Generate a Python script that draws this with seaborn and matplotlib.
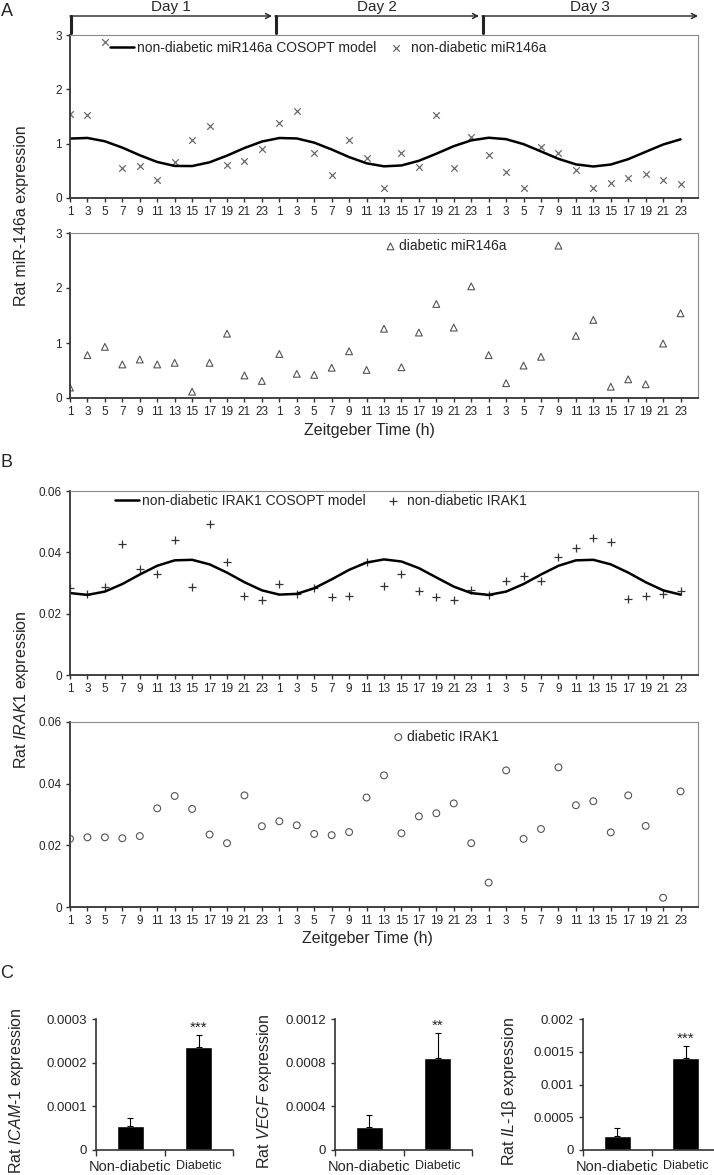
import numpy as np
import pandas as pd
import matplotlib
matplotlib.use("Agg")
import matplotlib.pyplot as plt
import seaborn as sns
from matplotlib.patches import FancyArrowPatch
from matplotlib.lines import Line2D
from matplotlib.ticker import FuncFormatter

# ---- data ----
zt_hours = [1, 3, 5, 7, 9, 11, 13, 15, 17, 19, 21, 23]
zt_labels = zt_hours * 3
day_names = ["Day 1", "Day 2", "Day 3"]

mir_nd = [1.54, 1.52, 2.88, 0.55, 0.59, 0.33, 0.66, 1.07, 1.32, 0.61, 0.68, 0.90,
          1.38, 1.60, 0.83, 0.42, 1.06, 0.74, 0.19, 0.82, 0.57, 1.52, 0.56, 1.12,
          0.80, 0.48, 0.19, 0.93, 0.83, 0.51, 0.19, 0.28, 0.36, 0.44, 0.33, 0.26]
mir_nd_model = [1.094, 1.105, 1.044, 0.927, 0.787, 0.663, 0.590, 0.588, 0.657, 0.780, 0.920, 1.039,
                1.104, 1.096, 1.019, 0.893, 0.753, 0.639, 0.583, 0.599, 0.685, 0.815, 0.954, 1.061,
                1.109, 1.083, 0.991, 0.857, 0.721, 0.619, 0.580, 0.616, 0.715, 0.850, 0.984, 1.080]
mir_d = [0.19, 0.78, 0.93, 0.61, 0.70, 0.61, 0.64, 0.115, 0.64, 1.17, 0.41, 0.31,
         0.80, 0.44, 0.42, 0.55, 0.85, 0.51, 1.26, 0.56, 1.19, 1.71, 1.28, 2.03,
         0.78, 0.27, 0.59, 0.75, 2.77, 1.13, 1.42, 0.205, 0.34, 0.25, 0.99, 1.54]

irak_nd = [0.0284, 0.0264, 0.0287, 0.0428, 0.0346, 0.0328, 0.0439, 0.0288, 0.0494, 0.0370, 0.0256, 0.0244,
           0.0298, 0.0264, 0.0285, 0.0253, 0.0259, 0.0367, 0.0289, 0.0329, 0.0273, 0.0254, 0.0243, 0.0276,
           0.0262, 0.0307, 0.0323, 0.0305, 0.0384, 0.0414, 0.0448, 0.0434, 0.0248, 0.0257, 0.0264, 0.0273]
irak_nd_model = [0.02672, 0.02612, 0.02721, 0.02966, 0.03277, 0.03562, 0.03739, 0.03756, 0.03608, 0.03339, 0.03026, 0.02761,
                 0.02621, 0.02646, 0.02829, 0.03119, 0.03429, 0.03668, 0.03769, 0.03701, 0.03485, 0.03182, 0.02882, 0.02671,
                 0.02612, 0.02720, 0.02966, 0.03277, 0.03561, 0.03739, 0.03756, 0.03608, 0.03339, 0.03026, 0.02761, 0.02621]
irak_d = [0.0221, 0.0226, 0.0226, 0.0223, 0.0230, 0.0320, 0.0360, 0.0318, 0.0235, 0.0207, 0.0362, 0.0262,
          0.0278, 0.0265, 0.0237, 0.0233, 0.0243, 0.0355, 0.0427, 0.0239, 0.0294, 0.0304, 0.0336, 0.0207,
          0.0079, 0.0443, 0.0221, 0.0253, 0.0453, 0.0330, 0.0343, 0.0242, 0.0362, 0.0263, 0.0030, 0.0375]

groups = ["Non-diabetic", "Diabetic"]
icam_mean = [5.5e-5, 2.36e-4]
icam_se = [1.8e-5, 2.8e-5]
vegf_mean = [2.1e-4, 8.4e-4]
vegf_se = [1.1e-4, 2.3e-4]
il1b_mean = [2.2e-4, 1.41e-3]
il1b_se = [1.1e-4, 1.8e-4]

# ---- style ----
sns.set_theme(style="white")
plt.rcParams["font.family"] = ["Liberation Sans", "DejaVu Sans"]
plt.rcParams["mathtext.fontset"] = "custom"
plt.rcParams["mathtext.rm"] = "Liberation Sans"
plt.rcParams["mathtext.it"] = "Liberation Sans:italic"
plt.rcParams["axes.unicode_minus"] = False

W, H = 714, 1175
fig = plt.figure(figsize=(W / 100, H / 100), dpi=100)


def box(l, t, r, b):
    return [l / W, 1 - b / H, (r - l) / W, (b - t) / H]


def fx(x):
    return x / W


def fy(y):
    return 1 - y / H


gfmt = FuncFormatter(lambda v, p: "%g" % v)
idx = np.arange(len(zt_labels))


def style_time(ax, ymax, yticks):
    ax.set_xlim(0, len(zt_labels))
    ax.set_ylim(0, ymax)
    ax.set_xticks(idx)
    ax.set_xticklabels([str(h) for h in zt_labels])
    ax.set_yticks(yticks)
    ax.yaxis.set_major_formatter(gfmt)
    ax.set_xlabel("")
    ax.set_ylabel("")
    for s in ["left", "bottom"]:
        ax.spines[s].set_color("#333333")
        ax.spines[s].set_linewidth(1.3)
    for s in ["top", "right"]:
        ax.spines[s].set_color("#8a8a8a")
        ax.spines[s].set_linewidth(0.8)
    ax.tick_params(axis="both", direction="out", length=3, width=1, color="#333333",
                   labelsize=8.5, bottom=True, left=True, pad=3)


# ---- panel A ----
axA1 = fig.add_axes(box(70, 35, 698, 198))
sns.lineplot(x=idx, y=mir_nd_model, color="black", lw=1.8, ax=axA1,
             label="non-diabetic miR146a COSOPT model")
sns.scatterplot(x=idx, y=mir_nd, marker="x", color="#6a6a6a", s=22, linewidth=0.9,
                ax=axA1, label="non-diabetic miR146a")
style_time(axA1, 3, [0, 1, 2, 3])
axA1.legend(loc="center", bbox_to_anchor=(0.411, 0.92), ncol=2, frameon=False,
            fontsize=10, handlelength=1.7, handletextpad=0.2, columnspacing=0.6,
            borderaxespad=0)

axA2 = fig.add_axes(box(70, 233, 698, 398))
sns.scatterplot(x=idx, y=mir_d, marker="^", facecolor="none", edgecolor="#555555",
                s=24, linewidth=0.8, ax=axA2, label="diabetic miR146a")
style_time(axA2, 3, [0, 1, 2, 3])
axA2.legend(loc="center", bbox_to_anchor=(0.597, 0.921), frameon=False, fontsize=10,
            handlelength=1.0, handletextpad=0.1, borderaxespad=0)

fig.text(fx(22), fy(216), "Rat miR-146a expression", rotation=90, ha="center",
         va="center", fontsize=11.5)
fig.text(fx(369), fy(430), "Zeitgeber Time (h)", ha="center", va="center", fontsize=11.5)

# day arrows
day_spans = [(70, 272), (275, 479), (482, 698)]
for (x0, x1), lab in zip(day_spans, day_names):
    fig.add_artist(FancyArrowPatch((fx(x0), fy(16)), (fx(x1), fy(16)),
                                   transform=fig.transFigure, arrowstyle="->",
                                   mutation_scale=9, lw=1.0, color="#222222",
                                   shrinkA=0, shrinkB=0))
    fig.add_artist(Line2D([fx(x0 + 1)] * 2, [fy(16), fy(33)], transform=fig.transFigure,
                          lw=2.2, color="#222222"))
    fig.text(fx((x0 + x1) / 2), fy(7), lab, ha="center", va="center", fontsize=11)

# ---- panel B ----
axB1 = fig.add_axes(box(70, 491, 698, 675))
sns.lineplot(x=idx, y=irak_nd_model, color="black", lw=1.8, ax=axB1,
             label="non-diabetic IRAK1 COSOPT model")
sns.scatterplot(x=idx, y=irak_nd, marker="+", color="#333333", s=30, linewidth=0.9,
                ax=axB1, label="non-diabetic IRAK1")
style_time(axB1, 0.06, [0, 0.02, 0.04, 0.06])
axB1.legend(loc="center", bbox_to_anchor=(0.40, 0.946), ncol=2, frameon=False,
            fontsize=10, handlelength=1.7, handletextpad=0.2, columnspacing=1.1,
            borderaxespad=0)

axB2 = fig.add_axes(box(70, 722, 698, 907))
sns.scatterplot(x=idx, y=irak_d, marker="o", facecolor="none", edgecolor="#555555",
                s=24, linewidth=0.8, ax=axB2, label="diabetic IRAK1")
style_time(axB2, 0.06, [0, 0.02, 0.04, 0.06])
axB2.legend(loc="center", bbox_to_anchor=(0.597, 0.92), frameon=False, fontsize=10,
            handlelength=1.0, handletextpad=0.1, borderaxespad=0)

fig.text(fx(22), fy(690), r"Rat $\it{IRAK1}$ expression", rotation=90, ha="center",
         va="center", fontsize=11.5)
fig.text(fx(367), fy(938), "Zeitgeber Time (h)", ha="center", va="center", fontsize=11.5)

# ---- panel C ----
bar_specs = [
    (96, icam_mean, icam_se, 0.0003, [0, 0.0001, 0.0002, 0.0003], "***",
     r"Rat $\it{ICAM}$-$\it{1}$ expression", -0.51),
    (335, vegf_mean, vegf_se, 0.0012, [0, 0.0004, 0.0008, 0.0012], "**",
     r"Rat $\it{VEGF}$ expression", -0.445),
    (583, il1b_mean, il1b_se, 0.002, [0, 0.0005, 0.001, 0.0015, 0.002], "***",
     r"Rat $\it{IL}$-$\it{1}$β expression", -0.467),
]
for left, means, ses, ymax, yticks, star, ylab, labx in bar_specs:
    ax = fig.add_axes(box(left, 1019, left + 137, 1150))
    df = pd.DataFrame({"group": groups, "value": means})
    sns.barplot(data=df, x="group", y="value", color="black", width=0.4,
                errorbar=None, ax=ax, saturation=1)
    ax.errorbar([0, 1], means, yerr=[[0, 0], ses], fmt="none", ecolor="black",
                elinewidth=0.8, capsize=2.5, capthick=0.8)
    ax.text(1, means[1] + ses[1], star, ha="center", va="bottom", fontsize=11)
    ax.set_xlim(-0.5, 1.5)
    ax.set_ylim(0, ymax)
    ax.set_yticks(yticks)
    ax.yaxis.set_major_formatter(gfmt)
    ax.set_xlabel("")
    ax.set_ylabel(ylab, fontsize=11.5)
    ax.yaxis.set_label_coords(labx, 0.45)
    for s in ["top", "right"]:
        ax.spines[s].set_visible(False)
    for s in ["left", "bottom"]:
        ax.spines[s].set_color("#333333")
        ax.spines[s].set_linewidth(1.2)
    ax.set_xticks([-0.5, 0.5, 1.5], minor=True)
    ax.tick_params(axis="x", which="minor", direction="out", length=4, width=1,
                   color="#333333", bottom=True)
    ax.tick_params(axis="x", which="major", length=0, pad=7)
    ax.tick_params(axis="y", direction="out", length=3, width=1, color="#333333",
                   labelsize=9.5, left=True)
    tl = ax.get_xticklabels()
    tl[0].set_fontsize(10.5)
    tl[1].set_fontsize(9)

# panel letters
fig.text(fx(7), fy(12), "A", ha="center", va="center", fontsize=13)
fig.text(fx(7), fy(463), "B", ha="center", va="center", fontsize=13)
fig.text(fx(7), fy(973), "C", ha="center", va="center", fontsize=13)

fig.savefig("out.png", dpi=100)
